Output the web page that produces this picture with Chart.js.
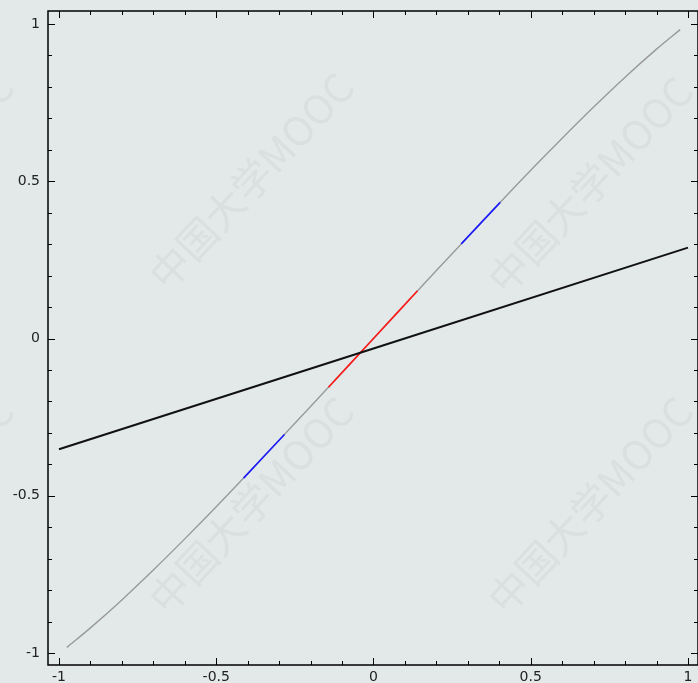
<!DOCTYPE html>
<html>
<head>
<meta charset="utf-8">
<script src="https://cdn.jsdelivr.net/npm/chart.js@4/dist/chart.umd.min.js"></script>
<style>
  html, body { margin: 0; padding: 0; background: #e3e9e9; }
  #wrap { width: 698px; height: 683px; overflow: hidden; }
</style>
</head>
<body>
<div id="wrap"><canvas id="plot" width="698" height="683"></canvas></div>
<script>
// curve
const curveX = [-0.975, -0.9, -0.8, -0.7, -0.6, -0.5, -0.4, -0.3, -0.2, -0.1, 0, 0.1, 0.2, 0.3, 0.4, 0.5, 0.6, 0.7, 0.8, 0.9, 0.975];
const curveY = [-0.982, -0.92, -0.831, -0.736, -0.637, -0.535, -0.43, -0.323, -0.216, -0.108, 0, 0.108, 0.216, 0.323, 0.43, 0.535, 0.637, 0.736, 0.831, 0.92, 0.982];

// straight black line
const lineX = [-1, 1];
const lineY = [-0.352, 0.289];

// highlighted pieces of the curve
const redX = [-0.143, 0, 0.14];
const redY = [-0.155, 0, 0.152];
const blueLowX = [-0.413, -0.283];
const blueLowY = [-0.444, -0.305];
const blueHighX = [0.279, 0.403];
const blueHighY = [0.301, 0.433];

const tickValues = [-1, -0.5, 0, 0.5, 1];
const watermark = "中国大学MOOC";

function pts(xs, ys) {
  return xs.map((x, i) => ({ x: x, y: ys[i] }));
}

function seg(xs, ys, color, width, order) {
  return {
    data: pts(xs, ys),
    showLine: true,
    borderColor: color,
    borderWidth: width,
    pointRadius: 0,
    fill: false,
    order: order,
  };
}

const watermarkPlugin = {
  id: "watermark",
  beforeDatasetsDraw(chart) {
    const ctx = chart.ctx;
    ctx.save();
    ctx.font = "40px 'Noto Sans CJK SC'";
    ctx.fillStyle = "rgba(120,135,135,0.09)";
    ctx.textAlign = "center";
    ctx.textBaseline = "middle";
    const centers = [[-89, 181], [251, 181], [590, 185], [-89, 505], [251, 505], [590, 505]];
    centers.forEach(([cx, cy]) => {
      ctx.save();
      ctx.translate(cx, cy);
      ctx.rotate(-47 * Math.PI / 180);
      ctx.fillText(watermark, 0, 0);
      ctx.restore();
    });
    ctx.restore();
  },
};

const framePlugin = {
  id: "frame",
  afterDraw(chart) {
    const ctx = chart.ctx;
    const a = chart.chartArea;
    const xs = chart.scales.x;
    const ys = chart.scales.y;
    ctx.save();
    ctx.strokeStyle = "#000";
    ctx.lineWidth = 1.5;
    ctx.strokeRect(a.left, a.top, a.right - a.left, a.bottom - a.top);
    ctx.lineWidth = 1;
    for (let i = -10; i <= 10; i++) {
      const v = i / 10;
      const len = i % 5 === 0 ? 7 : 4;
      const px = Math.round(xs.getPixelForValue(v)) + 0.5;
      const py = Math.round(ys.getPixelForValue(v)) + 0.5;
      ctx.beginPath();
      ctx.moveTo(px, a.bottom); ctx.lineTo(px, a.bottom - len);
      ctx.moveTo(px, a.top); ctx.lineTo(px, a.top + len);
      ctx.moveTo(a.left, py); ctx.lineTo(a.left + len, py);
      ctx.moveTo(a.right, py); ctx.lineTo(a.right - len, py);
      ctx.stroke();
    }
    ctx.restore();
  },
};

const tickFont = { family: "'DejaVu Sans'", size: 14 };

new Chart(document.getElementById("plot"), {
  type: "scatter",
  data: {
    datasets: [
      seg(curveX, curveY, "#999999", 1.4, 3),
      seg(redX, redY, "#ff1a1a", 1.6, 2),
      seg(blueLowX, blueLowY, "#1a1aff", 1.6, 2),
      seg(blueHighX, blueHighY, "#1a1aff", 1.6, 2),
      seg(lineX, lineY, "#111111", 2, 1),
    ],
  },
  options: {
    responsive: false,
    devicePixelRatio: 1,
    animation: false,
    layout: { padding: { top: 11, right: 0, left: 0, bottom: 0 } },
    elements: { line: { tension: 0.4 } },
    plugins: { legend: { display: false }, tooltip: { enabled: false } },
    scales: {
      x: {
        type: "linear",
        min: -1.0349,
        max: 1.0318,
        grid: { display: false, drawTicks: false },
        border: { display: false },
        afterBuildTicks: (s) => { s.ticks = tickValues.map((v) => ({ value: v })); },
        afterFit: (s) => { s.height = 18; s.paddingLeft = 0; s.paddingRight = 0; },
        ticks: { font: tickFont, color: "#222", padding: 4, maxRotation: 0, autoSkip: false, callback: (v) => String(v) },
      },
      y: {
        type: "linear",
        min: -1.038,
        max: 1.0413,
        grid: { display: false, drawTicks: false },
        border: { display: false },
        afterBuildTicks: (s) => { s.ticks = tickValues.map((v) => ({ value: v })); },
        afterFit: (s) => { s.width = 48; s.paddingTop = 0; s.paddingBottom = 0; },
        ticks: { font: tickFont, color: "#222", padding: 8, autoSkip: false, callback: (v) => String(v) },
      },
    },
  },
  plugins: [watermarkPlugin, framePlugin],
});
</script>
</body>
</html>
